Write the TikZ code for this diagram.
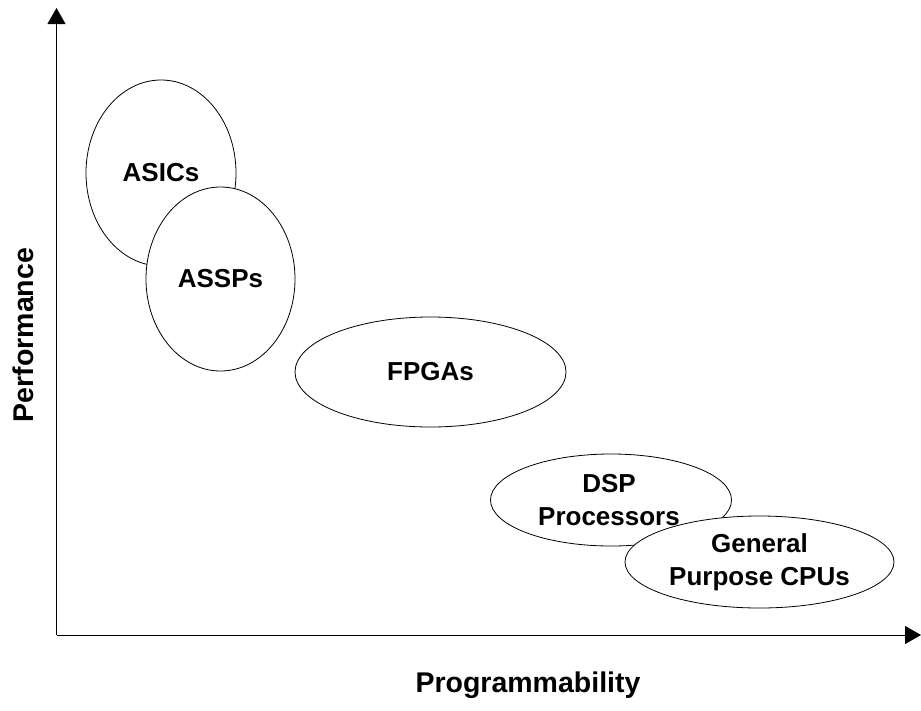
\documentclass[tikz,border=0pt]{standalone}
\usepackage{fontspec}
\setmainfont{Liberation Sans}
\usetikzlibrary{shapes.geometric, arrows.meta}

\begin{document}
\begin{tikzpicture}[x=1pt,y=-1pt,line width=0.8pt,
  >={Triangle[length=16pt,width=18pt]},
  chip/.style={ellipse,draw,fill=white,inner sep=0pt},
  chiptext/.style={align=center,font=\bfseries\fontsize{26}{33}\selectfont},
  axislabel/.style={font=\bfseries\fontsize{28.5}{34}\selectfont}]
  \useasboundingbox (0,0) rectangle (921,710);

  \coordinate (origin) at (56.5,635);
  \coordinate (ytop) at (56.5,8);
  \coordinate (xend) at (921,635);
  \draw[->] (origin) -- (ytop);
  \draw[->] (origin) -- (xend);

  \node[axislabel,rotate=90] (perf) at (23,335) {Performance};
  \node[axislabel,anchor=base] (prog) at (528,692) {Programmability};

  \node[chip,minimum width=150pt,minimum height=186pt] (asic) at (161,173) {};
  \node[chip,minimum width=149pt,minimum height=184pt] (assp) at (220.5,279) {};
  \node[chip,minimum width=271pt,minimum height=110pt] (fpga) at (430.5,372) {};
  \node[chip,minimum width=241pt,minimum height=92pt] (dsp) at (611,500) {};
  \node[chip,minimum width=269pt,minimum height=92pt] (cpu) at (759.5,562) {};

  % labels go on top of the overlapping ellipses
  \node[chiptext] (asictext) at (asic) {ASICs};
  \node[chiptext] (assptext) at (assp) {ASSPs};
  \node[chiptext] (fpgatext) at (fpga) {FPGAs};
  \node[chiptext] (dsptext) at (609,500) {DSP\\Processors};
  \node[chiptext] (cputext) at (cpu) {General\\Purpose CPUs};
\end{tikzpicture}
\end{document}
